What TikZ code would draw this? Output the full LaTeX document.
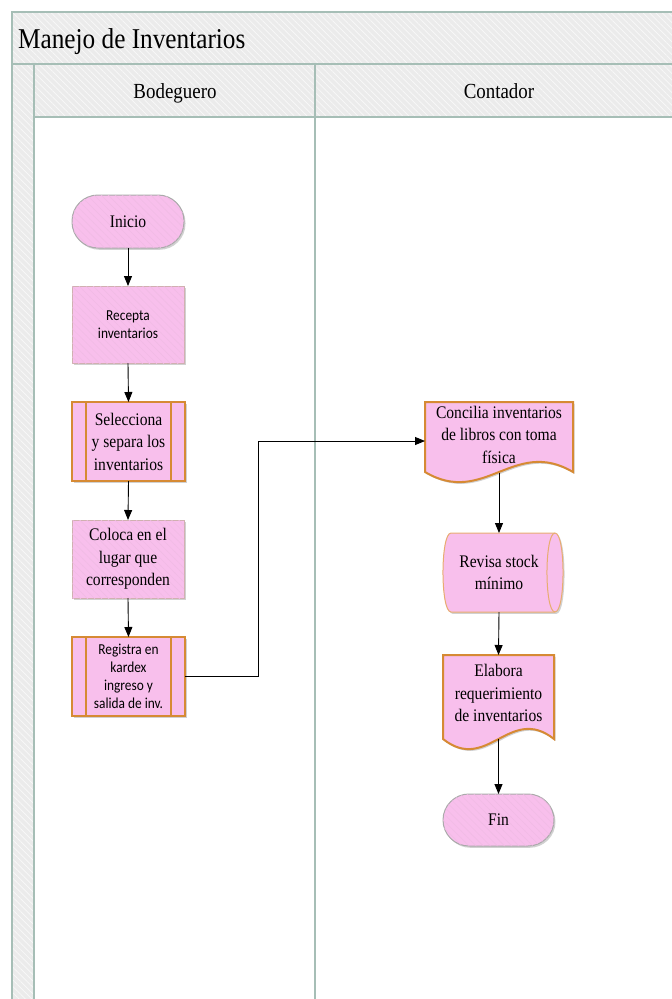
\documentclass[tikz,border=0pt]{standalone}
\usepackage{fontspec}
\setmainfont{Liberation Serif}[FakeStretch=0.88]
\newfontfamily\calib{Carlito}[FakeStretch=0.88]
\usetikzlibrary{arrows.meta,patterns.meta,shadows}
\definecolor{pinkfill}{RGB}{248,191,236}
\definecolor{orangeb}{RGB}{214,138,52}
\definecolor{lightorange}{RGB}{232,172,112}
\definecolor{poolline}{RGB}{166,190,182}
\definecolor{headfill}{RGB}{235,235,235}
\definecolor{termline}{RGB}{170,170,170}
\definecolor{rectline}{RGB}{208,176,176}
\begin{document}
\begin{tikzpicture}[x=1pt,y=-1pt,
  hatchhead/.style={postaction={pattern={Lines[angle=-45,distance=4.5pt,line width=0.7pt]},pattern color=white!70!headfill}},
  hatchpink/.style={postaction={pattern={Lines[angle=-45,distance=5pt,line width=0.6pt]},pattern color=pinkfill!94!gray}},
  sh/.style={drop shadow={shadow xshift=1.5pt,shadow yshift=-1.8pt,opacity=0.18,fill=black}},
  txt/.style={font=\fontsize{17.7}{22.5}\selectfont,align=center},
  sanstxt/.style={font=\calib\fontsize{15.2}{17.8}\selectfont,align=center},
  base/.style={outer sep=0pt,inner sep=0pt,fill=pinkfill,sh},
  term/.style={base,hatchpink,draw=termline,line width=1pt,rounded corners=26pt,txt},
  procl/.style={base,hatchpink,draw=rectline,line width=1pt,rectangle},
  pproc/.style={base,draw=orangeb,line width=2pt,rectangle},
  lbl/.style={outer sep=0pt,inner sep=0pt,txt},
  arr/.style={draw=black,line width=0.9pt,-{Triangle[length=10pt,width=8pt]}},
  lanehead/.style={font=\fontsize{21.5}{26}\selectfont,anchor=base,inner sep=0pt}
]
\useasboundingbox (0,0) rectangle (672,999);
% ---------- pool ----------
\begin{scope}
\clip (0,0) rectangle (672,999);
\path[fill=headfill,hatchhead] (12,12) rectangle (700,64);
\path[fill=headfill,hatchhead] (34,64) rectangle (700,117);
\path[fill=headfill,hatchhead] (12,64) rectangle (34,1020);
\draw[poolline,line width=1.2pt] (12,1020) -- (12,12) -- (700,12);
\draw[poolline,line width=1.2pt] (12,64) -- (700,64);
\draw[poolline,line width=1.2pt] (34,117) -- (700,117);
\draw[poolline,line width=1.2pt] (34,64) -- (34,1020);
\draw[poolline,line width=1.2pt] (315,64) -- (315,1020);
\end{scope}
\node[anchor=base west,inner sep=0pt,font=\fontsize{28.7}{34}\selectfont] (title) at (18,48) {Manejo de Inventarios};
\node[lanehead] (bod) at (175,98) {Bodeguero};
\node[lanehead] (cont) at (499,98) {Contador};
% ---------- Bodeguero lane ----------
\node[term,minimum width=112pt,minimum height=53pt] (ini) at (128,221.5) {Inicio};
\node[procl,sanstxt,minimum width=112pt,minimum height=77pt] (rec) at (128,324.5) {Recepta\\inventarios};
\node[pproc,txt,minimum width=113pt,minimum height=79pt] (sel) at (128.5,441.5) {Selecciona\\y separa los\\inventarios};
\draw[orangeb,line width=2pt] ([xshift=14pt]sel.north west) -- ([xshift=14pt]sel.south west);
\draw[orangeb,line width=2pt] ([xshift=-14pt]sel.north east) -- ([xshift=-14pt]sel.south east);
\node[procl,txt,minimum width=112pt,minimum height=78pt] (col) at (128,559) {Coloca en el\\lugar que\\corresponden};
\node[pproc,sanstxt,minimum width=113pt,minimum height=79pt] (reg) at (128.5,676.5) {Registra en\\kardex\\ingreso y\\salida de inv.};
\draw[orangeb,line width=2pt] ([xshift=14pt]reg.north west) -- ([xshift=14pt]reg.south west);
\draw[orangeb,line width=2pt] ([xshift=-14pt]reg.north east) -- ([xshift=-14pt]reg.south east);
% ---------- Contador lane ----------
\draw[fill=pinkfill,draw=orangeb,line width=2pt,sh]
  (425,402) -- (573,402) -- (573,472) .. controls (513.8,437) and (484.2,507) .. (425,472) -- cycle;
\node[lbl,minimum width=148pt,minimum height=65pt] (conc) at (499,434.5) {Concilia inventarios\\de libros con toma\\física};
\draw[fill=pinkfill,draw=lightorange,line width=1pt,sh]
  (451,533) -- (555,533) .. controls (565.7,533) and (565.7,612) .. (555,612) -- (451,612)
  .. controls (440.3,612) and (440.3,533) .. (451,533) -- cycle;
\draw[lightorange,line width=1pt] (555,533) .. controls (544.3,533) and (544.3,612) .. (555,612);
\node[lbl,minimum width=112pt,minimum height=79pt] (rev) at (499,572.5) {Revisa stock\\mínimo};
\draw[fill=pinkfill,draw=orangeb,line width=2pt,sh]
  (443,655) -- (554,655) -- (554,739) .. controls (509.6,704) and (487.4,774) .. (443,739) -- cycle;
\node[lbl,minimum width=111pt,minimum height=76pt] (elab) at (498.5,693) {Elabora\\requerimiento\\de inventarios};
\node[term,minimum width=111pt,minimum height=52pt] (fin) at (498.5,820) {Fin};
% ---------- connectors ----------
\draw[arr] (ini.south) -- (rec.north);
\draw[arr] (rec.south) -- (sel.north);
\draw[arr] (sel.south) -- (col.north);
\draw[arr] (col.south) -- (reg.north);
\draw[arr] (reg.east) -- ++(73,0) |- ([yshift=-6.5pt]conc.west);
\draw[arr] ([yshift=-5.5pt]conc.south) -- (rev.north);
\draw[arr] (rev.south) -- (elab.north);
\draw[arr] ([yshift=-8pt]elab.south) -- (fin.north);
\end{tikzpicture}
\end{document}
